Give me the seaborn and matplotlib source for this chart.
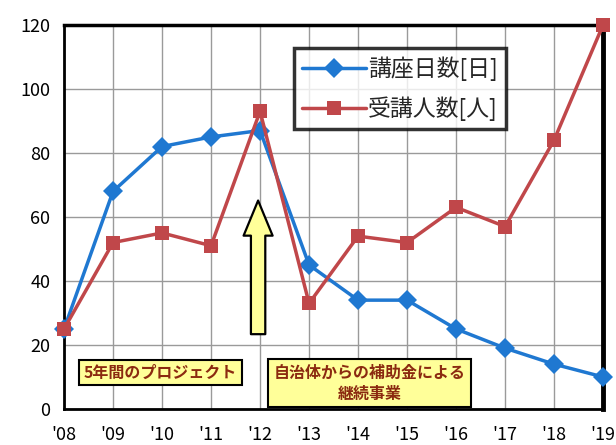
import numpy as np
import pandas as pd
import matplotlib
matplotlib.use("Agg")
import matplotlib.pyplot as plt
import seaborn as sns

# data
years = ["'08", "'09", "'10", "'11", "'12", "'13", "'14", "'15", "'16", "'17", "'18", "'19"]
course_days = [25, 68, 82, 85, 87, 45, 34, 34, 25, 19, 14, 10]
participants = [25, 52, 55, 51, 93, 33, 54, 52, 63, 57, 84, 120]
series_names = ["講座日数[日]", "受講人数[人]"]

sns.set_style("white")
plt.rcParams['font.family'] = ['Noto Sans CJK JP', 'DejaVu Sans']

df = pd.DataFrame({
    "idx": list(range(len(years))) * 2,
    "value": course_days + participants,
    "series": [series_names[0]] * len(years) + [series_names[1]] * len(years),
})

fig = plt.figure(figsize=(6.16, 4.45), dpi=100)
ax = fig.add_axes([0.104, 0.081, 0.875, 0.863])

palette = {series_names[0]: "#1F78D1", series_names[1]: "#C0474A"}
markers = {series_names[0]: "D", series_names[1]: "s"}
sns.lineplot(data=df, x="idx", y="value", hue="series", style="series",
             palette=palette, markers=markers, dashes=False, markersize=10,
             linewidth=2.5, markeredgewidth=0, ax=ax, clip_on=False, zorder=5)

ax.set_xlim(0, len(years) - 1)
ax.set_ylim(0, 120)
ax.set_xticks(range(len(years)))
ax.set_xticklabels(years)
ax.set_yticks(range(0, 121, 20))
ax.tick_params(axis="both", labelsize=13, length=5, width=1.2, direction="out",
               colors="#333333", labelcolor="black", pad=7)
ax.tick_params(axis="y", pad=5)
ax.set_xlabel("")
ax.set_ylabel("")
ax.grid(True, color="#9a9a9a", linewidth=1.0)
ax.set_axisbelow(True)

for side, lw in [("left", 2.0), ("bottom", 2.0), ("top", 2.5), ("right", 3.5)]:
    ax.spines[side].set_visible(True)
    ax.spines[side].set_color("black")
    ax.spines[side].set_linewidth(lw)

# legend
leg = ax.legend(loc="upper left", bbox_to_anchor=(0.426, 0.94), fontsize=16.5,
                frameon=True, fancybox=False, handlelength=2.8,
                borderpad=0.35, labelspacing=0.7, handletextpad=0.1,
                borderaxespad=0)
leg.get_frame().set_edgecolor("black")
leg.get_frame().set_linewidth(2.5)
leg.set_zorder(6)

# arrow pointing at '12
ax.annotate("", xy=(3.96, 66), xytext=(3.96, 22.5),
            arrowprops=dict(arrowstyle="simple,head_length=1.15,head_width=0.95,tail_width=0.47",
                            fc="#FFFF99", ec="black", lw=1.6, mutation_scale=22),
            zorder=7)

text_color = "#8B2A10"
ax.text(0.4, 11.4, "5年間のプロジェクト", fontsize=11.5, color=text_color,
        fontweight="bold", va="center", ha="left",
        bbox=dict(boxstyle="square,pad=0.3", fc="#FFFF99", ec="black", lw=1.5), zorder=7)
ax.text(6.23, 8.0, "自治体からの補助金による\n継続事業", fontsize=11.5, color=text_color,
        fontweight="bold", va="center", ha="center", multialignment="center",
        linespacing=1.35, bbox=dict(boxstyle="square,pad=0.35", fc="#FFFF99", ec="black", lw=1.5),
        zorder=7)

fig.savefig("out.png", dpi=100)
